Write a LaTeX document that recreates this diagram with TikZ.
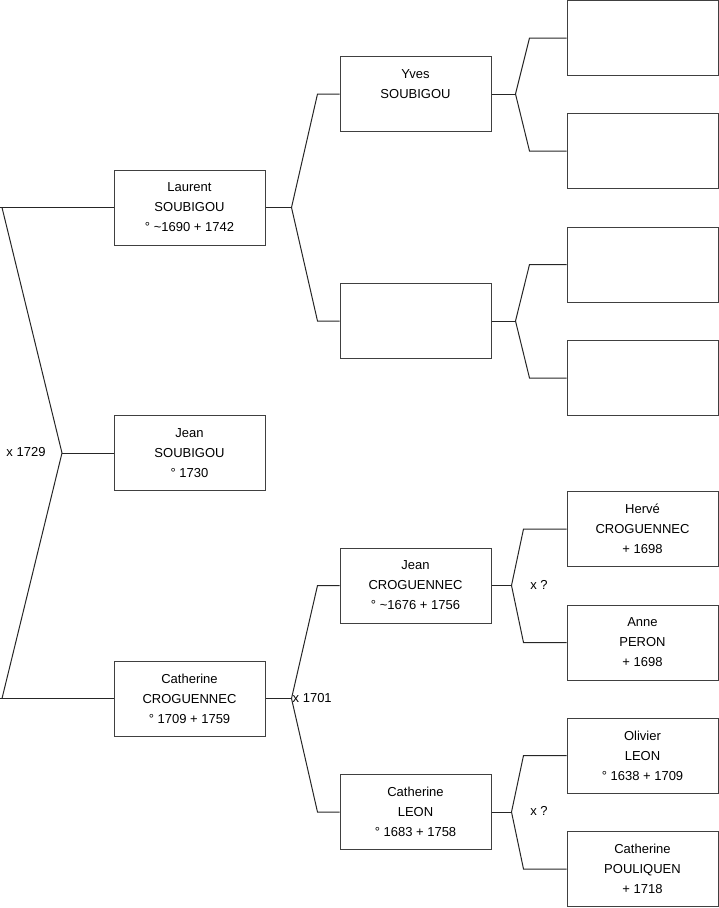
\documentclass[tikz,border=0pt]{standalone}
\usepackage{fontspec}
\setmainfont{Liberation Sans}
\begin{document}
\begin{tikzpicture}[x=1pt,y=-1pt,
  person/.style={draw=black!75,line width=1pt,fill=white,minimum width=151pt,minimum height=75pt,
    inner sep=0pt,align=center,font=\fontsize{13}{20}\selectfont},
  link/.style={draw=black!85,line width=1pt},
  lab/.style={font=\fontsize{13}{16}\selectfont,inner sep=0pt}]
\useasboundingbox (0,0) rectangle (719,908);
% column 1
\node[person] (laurent) at (189.5,207.5) {Laurent\\SOUBIGOU\\° \textasciitilde1690 + 1742};
\node[person] (jeans) at (189.5,453) {Jean\\SOUBIGOU\\° 1730};
\node[person] (cathc) at (189.5,698.5) {Catherine\\CROGUENNEC\\° 1709 + 1759};
% column 2
\node[person] (yves) at (415.5,94) {Yves\\SOUBIGOU\\\phantom{1}};
\node[person] (empty2) at (415.5,321) {};
\node[person] (jeanc) at (415.5,585.5) {Jean\\CROGUENNEC\\° \textasciitilde1676 + 1756};
\node[person] (cathl) at (415.5,812) {Catherine\\LEON\\° 1683 + 1758};
% column 3
\node[person] (a1) at (642.5,38) {};
\node[person] (a2) at (642.5,151) {};
\node[person] (a3) at (642.5,264.5) {};
\node[person] (a4) at (642.5,378) {};
\node[person] (herve) at (642.5,529) {Hervé\\CROGUENNEC\\+ 1698};
\node[person] (anne) at (642.5,642.5) {Anne\\PERON\\+ 1698};
\node[person] (olivier) at (642.5,755.5) {Olivier\\LEON\\° 1638 + 1709};
\node[person] (cathp) at (642.5,869) {Catherine\\POULIQUEN\\+ 1718};

% root fork
\coordinate (r) at (62,453);
\coordinate (lt) at (0,207.5);
\coordinate (lb) at (0,698.5);
\coordinate (dt) at (2,207.5);
\coordinate (db) at (2,698.5);
\draw[link] (lt) -- (laurent.west);
\draw[link] (lb) -- (cathc.west);
\draw[link] (dt) -- (r) -- (db);
\draw[link] (r) -- (jeans.west);
\node[lab] (m1729) at (26,452.5) {x 1729};

% generic forks
\foreach \c/\u/\d in {laurent/yves/empty2, cathc/jeanc/cathl}{
  \draw[link] (\c.east) -- +(26,0) coordinate (b-\c);
  \draw[link] (b-\c) -- ([xshift=-22pt]\u.west) -- (\u.west);
  \draw[link] (b-\c) -- ([xshift=-22pt]\d.west) -- (\d.west);
}
\foreach \c/\u/\d in {yves/a1/a2, empty2/a3/a4}{
  \draw[link] (\c.east) -- +(24,0) coordinate (b-\c);
  \draw[link] (b-\c) -- ([xshift=-37pt]\u.west) -- (\u.west);
  \draw[link] (b-\c) -- ([xshift=-37pt]\d.west) -- (\d.west);
}
\foreach \c/\u/\d in {jeanc/herve/anne, cathl/olivier/cathp}{
  \draw[link] (\c.east) -- +(20,0) coordinate (b-\c);
  \draw[link] (b-\c) -- ([xshift=-43pt]\u.west) -- (\u.west);
  \draw[link] (b-\c) -- ([xshift=-43pt]\d.west) -- (\d.west);
}
\node[lab,anchor=west] (m1701) at (292.5,698) {x 1701};
\node[lab] (mq1) at (539,585) {x ?};
\node[lab] (mq2) at (539,811) {x ?};
\end{tikzpicture}
\end{document}
